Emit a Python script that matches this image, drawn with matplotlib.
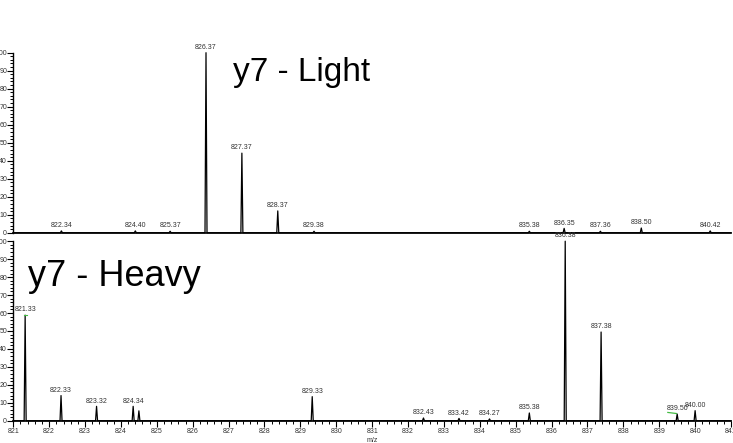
import numpy as np
import matplotlib.pyplot as plt
from matplotlib.ticker import MultipleLocator

plt.rcParams['font.family'] = ['Liberation Sans', 'DejaVu Sans']

# y7 light: centroid m/z and relative abundance
light_mz = [822.34, 824.40, 825.37, 826.37, 827.37, 828.37, 829.38,
            835.38, 836.35, 837.36, 838.50, 840.42]
light_int = [1.0, 1.0, 0.8, 100, 44.2, 12.1, 0.8,
             0.8, 2.4, 0.8, 2.6, 1.0]
light_lbl = ['822.34', '824.40', '825.37', '826.37', '827.37', '828.37', '829.38',
             '835.38', '836.35', '837.36', '838.50', '840.42']

# y7 heavy
heavy_mz = [821.33, 822.33, 823.32, 824.34, 824.50, 829.33, 832.43,
            833.42, 834.27, 835.38, 836.38, 837.38, 839.50, 840.00]
heavy_int = [58.8, 14.0, 8.0, 8.0, 5.5, 13.4, 1.5,
             1.3, 1.0, 4.3, 100, 49.4, 3.7, 5.6]
heavy_lbl = ['821.33', '822.33', '823.32', '824.34', '', '829.33', '832.43',
             '833.42', '834.27', '835.38', '836.38', '837.38', '839.50', '840.00']

xmin, xmax = 821, 841


def profile(mz, inten, hw=0.028):
    xs = [xmin]
    ys = [0]
    for m, h in sorted(zip(mz, inten)):
        xs += [m - hw, m, m + hw]
        ys += [0, h, 0]
    xs.append(xmax)
    ys.append(0)
    return np.array(xs), np.array(ys)


def style(ax):
    ax.set_xlim(xmin, xmax)
    ax.set_ylim(0, 100)
    for s in ['top', 'right']:
        ax.spines[s].set_visible(False)
    ax.spines['left'].set_linewidth(1.0)
    ax.spines['bottom'].set_linewidth(1.2)
    ax.yaxis.set_major_locator(MultipleLocator(10))
    ax.yaxis.set_minor_locator(MultipleLocator(2))
    ax.tick_params(axis='y', which='major', length=4, width=0.8, pad=0.5,
                   labelsize=5, labelcolor='#333333')
    ax.tick_params(axis='y', which='minor', length=2.5, width=0.7)


fig = plt.figure(figsize=(7.33, 4.43), dpi=100)
ax1 = fig.add_axes([13.3 / 733, 210.3 / 443, 717.7 / 733, 180 / 443])
ax2 = fig.add_axes([13.3 / 733, 22.3 / 443, 717.7 / 733, 179.5 / 443])

for ax, mz, inten, lbl in [(ax1, light_mz, light_int, light_lbl),
                           (ax2, heavy_mz, heavy_int, heavy_lbl)]:
    style(ax)
    x, y = profile(mz, inten)
    ax.plot(x, y, color='black', lw=0.9, clip_on=False)
    for m, h, t in zip(mz, inten, lbl):
        if t:
            ax.text(m, h + 1.0, t, ha='center', va='bottom', fontsize=5,
                    color='#333333', clip_on=False)

ax1.set_xticks([])
ax1.text(827.12, 84.3, 'y7 - Light', fontsize=24, va='baseline', ha='left')

ax2.xaxis.set_major_locator(MultipleLocator(1))
ax2.xaxis.set_minor_locator(MultipleLocator(0.2))
ax2.tick_params(axis='x', which='major', length=4, width=0.8, pad=1,
                labelsize=5, labelcolor='#333333')
ax2.tick_params(axis='x', which='minor', length=2.5, width=0.7)
ax2.set_xlabel('m/z', fontsize=5, color='#333333', labelpad=2)
ax2.text(821.41, 75, 'y7 - Heavy', fontsize=26, va='baseline', ha='left')

# small green markers on two heavy peaks
ax2.plot([821.30, 821.37], [58.8, 58.8], color='#44bb44', lw=0.8)
ax2.plot([839.24, 839.48], [4.6, 4.0], color='#44bb44', lw=0.9)

fig.savefig('out.png', dpi=100)
